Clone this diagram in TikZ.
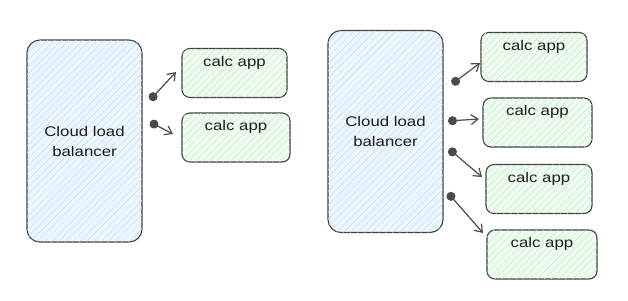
\documentclass[tikz,border=0pt]{standalone}
\usepackage{fontspec}
\newfontfamily\sketchfont[FakeStretch=1.2]{Liberation Sans}
\usetikzlibrary{arrows.meta,patterns.meta}

\definecolor{ink}{HTML}{1E1E1E}
\definecolor{lbfill}{HTML}{EEF7FF}
\definecolor{lbhatch}{HTML}{BCDDF8}
\definecolor{appfill}{HTML}{F0FBF1}
\definecolor{apphatch}{HTML}{C2EBC8}

% text sits near the top of an app box
\newcommand{\toptext}[1]{\raisebox{7pt}[0pt][0pt]{#1}}

\begin{document}
\begin{tikzpicture}[x=1pt, y=-1pt,
    balancer/.style={draw=ink!85, line width=1.1pt, rounded corners=13pt,
                     minimum width=115pt, minimum height=202pt, fill=lbfill,
                     postaction={pattern={Lines[angle=45,distance=5pt,line width=0.5pt]},
                                 pattern color=lbhatch},
                     font=\sketchfont\fontsize{14}{20}\selectfont, text=ink,
                     align=center, inner sep=0pt},
    app/.style={draw=ink!85, line width=1.1pt, rounded corners=8pt,
                minimum width=106pt, minimum height=49pt, fill=appfill,
                postaction={pattern={Lines[angle=45,distance=5pt,line width=0.5pt]},
                            pattern color=apphatch},
                font=\sketchfont\fontsize{14}{16}\selectfont, text=ink,
                inner sep=0pt},
    flow/.style={draw=ink!80, line width=1.2pt,
                 {Circle[length=9pt]}-{Straight Barb[length=7pt,width=10pt]}},
]
\useasboundingbox (0,0) rectangle (628,300);

% === Left: one balancer, two apps ===
\node[balancer] (lbl) at (84.5,141) {Cloud load\\balancer};
\node[app, minimum width=105pt] (la) at (234.5,73)  {\toptext{calc app}};
\node[app, minimum width=108pt] (lb) at (236,137.5) {\toptext{calc app}};

% === Right: one balancer, four apps ===
\node[balancer] (lbr) at (385.5,131.5) {Cloud load\\balancer};
\node[app] (ra) at (534,57)     {\toptext{calc app}};
\node[app, minimum width=109pt] (rb) at (537.5,122.5) {\toptext{calc app}};
\node[app] (rc) at (539,189)    {\toptext{calc app}};
\node[app, minimum width=110pt] (rd) at (542,254.5) {\toptext{calc app}};

% === Arrow ends ===
\coordinate (sla) at (150,100); \coordinate (tla) at (176,72);
\coordinate (slb) at (150,122); \coordinate (tlb) at (173,134);
\coordinate (sra) at (452,84);  \coordinate (tra) at (480,63);
\coordinate (srb) at (448,121); \coordinate (trb) at (479,119);
\coordinate (src) at (449,149); \coordinate (trc) at (482,177);
\coordinate (srd) at (448,193); \coordinate (trd) at (483,233);

% === Arrows ===
\foreach \a in {la,lb,ra,rb,rc,rd}
  \draw[flow] (s\a) -- (t\a);

\end{tikzpicture}
\end{document}
